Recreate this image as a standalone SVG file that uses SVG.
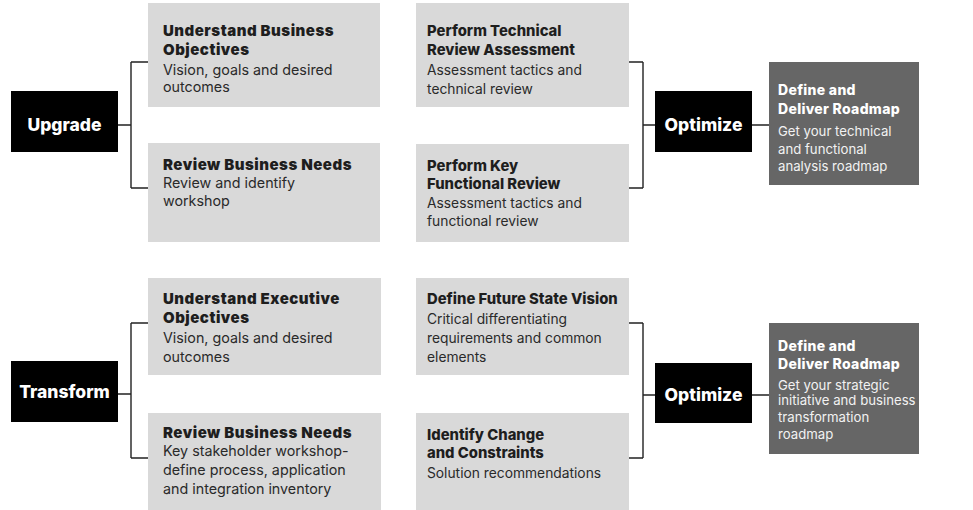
<svg xmlns="http://www.w3.org/2000/svg" width="973" height="510" viewBox="0 0 973 510">
<style>
.lt{fill:#d9d9d9}
.dk{fill:#666666}
.bk{fill:#000000}
.t{font-family:Inter,"Liberation Sans",sans-serif;font-weight:900;font-size:15px;letter-spacing:0.5px;fill:#1e1e1e}
.t2{font-family:Inter,"Liberation Sans",sans-serif;font-weight:800;font-size:14.8px;fill:#1e1e1e}
.d{font-family:Inter,"Liberation Sans",sans-serif;font-weight:400;font-size:14.3px;fill:#2a2a2a}
.d2{font-family:Inter,"Liberation Sans",sans-serif;font-weight:400;font-size:13.8px;fill:#2a2a2a}
.wt{font-family:Inter,"Liberation Sans",sans-serif;font-weight:800;font-size:14px;letter-spacing:0.3px;fill:#ffffff}
.wd{font-family:Inter,"Liberation Sans",sans-serif;font-weight:400;font-size:13.2px;fill:#f2f2f2}
.big{font-family:Inter,"Liberation Sans",sans-serif;font-weight:800;font-size:17.5px;fill:#ffffff;text-anchor:middle}
.c{fill:none;stroke:#222222;stroke-width:1.4}
</style>
<rect width="973" height="510" fill="#ffffff"/>
<g id="connectors">
<path class="c" d="M118 125H131M131 62V188M131 62H148M131 188H148"/>
<path class="c" d="M629 62H643M629 188H643M643 62V188M643 125H655M752 125H769"/>
<path class="c" d="M118 394H131M131 323V458M131 323H148M131 458H148"/>
<path class="c" d="M629 323H643M629 458H643M643 323V458M643 395H655M752 395H769"/>
</g>
<g id="upgrade">
<rect class="bk" x="11" y="91" width="107" height="61"/>
<text class="big" x="64.5" y="131">Upgrade</text>
</g>
<g id="understand-business">
<rect class="lt" x="148" y="3" width="232" height="104"/>
<text class="t" x="163" y="36">Understand Business</text>
<text class="t" x="163" y="55">Objectives</text>
<text class="d" x="163" y="75">Vision, goals and desired</text>
<text class="d" x="163" y="92">outcomes</text>
</g>
<g id="review-business-1">
<rect class="lt" x="148" y="143" width="232" height="99"/>
<text class="t" x="163" y="170">Review Business Needs</text>
<text class="d" x="163" y="188">Review and identify</text>
<text class="d" x="163" y="206">workshop</text>
</g>
<g id="perform-technical">
<rect class="lt" x="416" y="3" width="213" height="104"/>
<text class="t2" x="427" y="36">Perform Technical</text>
<text class="t2" x="427" y="55">Review Assessment</text>
<text class="d2" x="427" y="75">Assessment tactics and</text>
<text class="d2" x="427" y="94">technical review</text>
</g>
<g id="perform-functional">
<rect class="lt" x="416" y="144" width="213" height="98"/>
<text class="t2" x="427" y="171">Perform Key</text>
<text class="t2" x="427" y="189">Functional Review</text>
<text class="d2" x="427" y="208">Assessment tactics and</text>
<text class="d2" x="427" y="226">functional review</text>
</g>
<g id="optimize-1">
<rect class="bk" x="655" y="91" width="97" height="61"/>
<text class="big" x="703.5" y="131">Optimize</text>
</g>
<g id="roadmap-1">
<rect class="dk" x="769" y="62" width="150" height="123"/>
<text class="wt" x="778" y="95">Define and</text>
<text class="wt" x="778" y="114">Deliver Roadmap</text>
<text class="wd" x="778" y="136">Get your technical</text>
<text class="wd" x="778" y="154">and functional</text>
<text class="wd" x="778" y="171">analysis roadmap</text>
</g>
<g id="transform">
<rect class="bk" x="11" y="361" width="107" height="61"/>
<text class="big" x="64.5" y="398">Transform</text>
</g>
<g id="understand-executive">
<rect class="lt" x="148" y="278" width="233" height="97"/>
<text class="t" x="163" y="304">Understand Executive</text>
<text class="t" x="163" y="323">Objectives</text>
<text class="d" x="163" y="343">Vision, goals and desired</text>
<text class="d" x="163" y="362">outcomes</text>
</g>
<g id="review-business-2">
<rect class="lt" x="148" y="413" width="233" height="97"/>
<text class="t" x="163" y="438">Review Business Needs</text>
<text class="d" x="163" y="456">Key stakeholder workshop-</text>
<text class="d" x="163" y="475">define process, application</text>
<text class="d" x="163" y="494">and integration inventory</text>
</g>
<g id="future-state">
<rect class="lt" x="416" y="278" width="213" height="97"/>
<text class="t2" x="427" y="304">Define Future State Vision</text>
<text class="d2" x="427" y="324">Critical differentiating</text>
<text class="d2" x="427" y="343">requirements and common</text>
<text class="d2" x="427" y="362">elements</text>
</g>
<g id="identify-change">
<rect class="lt" x="416" y="413" width="213" height="97"/>
<text class="t2" x="427" y="440">Identify Change</text>
<text class="t2" x="427" y="458">and Constraints</text>
<text class="d2" x="427" y="478">Solution recommendations</text>
</g>
<g id="optimize-2">
<rect class="bk" x="655" y="363" width="97" height="60"/>
<text class="big" x="703.5" y="401">Optimize</text>
</g>
<g id="roadmap-2">
<rect class="dk" x="769" y="323" width="150" height="131"/>
<text class="wt" x="778" y="351">Define and</text>
<text class="wt" x="778" y="369">Deliver Roadmap</text>
<text class="wd" x="778" y="390">Get your strategic</text>
<text class="wd" x="778" y="405">initiative and business</text>
<text class="wd" x="778" y="422">transformation</text>
<text class="wd" x="778" y="439">roadmap</text>
</g>
</svg>
